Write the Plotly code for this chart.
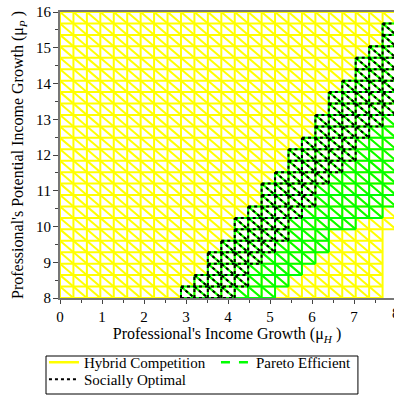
import plotly.graph_objects as go

# Grid nodes of the region mesh
mu_H_nodes = [0.0, 0.32, 0.64, 0.96, 1.28, 1.6, 1.92, 2.24, 2.56, 2.88, 3.2, 3.52, 3.84,
              4.16, 4.48, 4.8, 5.12, 5.44, 5.76, 6.08, 6.4, 6.72, 7.04, 7.36, 7.68, 8.0]
mu_P_nodes = [8.0, 8.32, 8.64, 8.96, 9.28, 9.6, 9.92, 10.24, 10.56, 10.88, 11.2, 11.52, 11.84,
              12.16, 12.48, 12.8, 13.12, 13.44, 13.76, 14.08, 14.4, 14.72, 15.04, 15.36, 15.68, 16.0]

# Regions: for each mesh column, first and last+1 row index of the filled cells
hybrid_cols = [0, 1, 2, 3, 4, 5, 6, 7, 8, 9, 10, 11, 12, 13, 14, 15, 16, 17, 18, 19, 20, 21, 22, 23, 24]
hybrid_bottom = [0, 0, 0, 0, 0, 0, 0, 0, 0, 0, 0, 0, 0, 0, 0, 0, 0, 0, 0, 0, 0, 0, 0, 0, 6]
hybrid_top = [25, 25, 25, 25, 25, 25, 25, 25, 25, 25, 25, 25, 25, 25, 25, 25, 25, 25, 25, 25, 25, 25, 25, 25, 25]

pareto_cols = [9, 10, 11, 12, 13, 14, 15, 16, 17, 18, 19, 20, 21, 22, 23, 24]
pareto_bottom = [0, 0, 0, 0, 0, 0, 0, 1, 2, 3, 4, 6, 6, 7, 7, 8]
pareto_top = [1, 2, 4, 5, 7, 8, 10, 11, 13, 14, 16, 18, 19, 21, 22, 24]

social_cols = [9, 10, 11, 12, 13, 14, 15, 16, 17, 18, 19, 20, 21, 22, 23, 24]
social_bottom = [0, 0, 0, 0, 1, 3, 4, 5, 7, 8, 10, 11, 12, 14, 15, 16]
social_top = [1, 2, 4, 5, 7, 8, 10, 11, 13, 14, 16, 18, 19, 21, 22, 24]

x_ticks = [0, 1, 2, 3, 4, 5, 6, 7, 8]
y_ticks = [8, 9, 10, 11, 12, 13, 14, 15, 16]

x_title = "Professional's Income Growth (\u03bc<sub><i>H</i></sub> )"
y_title = "Professional's Potential Income Growth (\u03bc<sub><i>P</i></sub> )"
legend_names = ["Hybrid Competition", "Pareto Efficient", "Socially Optimal"]


def mesh(cols, bottoms, tops):
    cells = set()
    for c, b, t in zip(cols, bottoms, tops):
        for k in range(b, t):
            cells.add((c, k))
    nx = len(mu_H_nodes) - 1
    ny = len(mu_P_nodes) - 1
    xs, ys = [], []

    def add(x0, y0, x1, y1):
        xs.extend([x0, x1, None])
        ys.extend([y0, y1, None])

    for k in range(ny + 1):
        start = None
        for i in range(nx + 1):
            on = i < nx and (((i, k - 1) in cells) or ((i, k) in cells))
            if on and start is None:
                start = i
            if not on and start is not None:
                add(mu_H_nodes[start], mu_P_nodes[k], mu_H_nodes[i], mu_P_nodes[k])
                start = None
    for i in range(nx + 1):
        start = None
        for k in range(ny + 1):
            on = k < ny and (((i - 1, k) in cells) or ((i, k) in cells))
            if on and start is None:
                start = k
            if not on and start is not None:
                add(mu_H_nodes[i], mu_P_nodes[start], mu_H_nodes[i], mu_P_nodes[k])
                start = None
    for d in range(nx + ny):
        start = None
        for i in range(nx + 1):
            k = d - i
            on = i < nx and 0 <= k < ny and (i, k) in cells
            if on and start is None:
                start = i
            if not on and start is not None:
                ks = d - start
                ke = d - (i - 1)
                add(mu_H_nodes[start], mu_P_nodes[ks + 1], mu_H_nodes[i], mu_P_nodes[ke])
                start = None
    return xs, ys


fig = go.Figure()

hx, hy = mesh(hybrid_cols, hybrid_bottom, hybrid_top)
fig.add_trace(go.Scatter(x=hx, y=hy, mode="lines", line=dict(color="#ffff00", width=2),
                         showlegend=False, hoverinfo="skip"))
px_, py_ = mesh(pareto_cols, pareto_bottom, pareto_top)
fig.add_trace(go.Scatter(x=px_, y=py_, mode="lines", line=dict(color="#00ff00", width=2),
                         showlegend=False, hoverinfo="skip"))
sx, sy = mesh(social_cols, social_bottom, social_top)
fig.add_trace(go.Scatter(x=sx, y=sy, mode="lines", line=dict(color="#000000", width=2, dash="dot"),
                         showlegend=False, hoverinfo="skip"))

fig.add_trace(go.Scatter(x=[None], y=[None], mode="lines", name=legend_names[0], legend="legend",
                         line=dict(color="#ffff00", width=2.5)))
fig.add_trace(go.Scatter(x=[None], y=[None], mode="lines", name=legend_names[1], legend="legend",
                         line=dict(color="#00ff00", width=2.5, dash="dash")))
fig.add_trace(go.Scatter(x=[None], y=[None], mode="lines", name=legend_names[2], legend="legend2",
                         line=dict(color="#000000", width=2, dash="dot")))

serif = "Liberation Serif"
leg_common = dict(orientation="h", xanchor="left", borderwidth=0, bgcolor="rgba(0,0,0,0)",
                  font=dict(family=serif, size=15), itemwidth=30)

fig.update_layout(
    width=394, height=396,
    margin=dict(l=60, r=0, t=12, b=98),
    paper_bgcolor="white", plot_bgcolor="white",
    font=dict(family=serif, size=15, color="black"),
    xaxis=dict(range=[0, 7.952], tickvals=x_ticks, ticks="outside", ticklen=4, tickwidth=1,
               tickcolor="#444", showgrid=False, zeroline=False, showline=True, linecolor="#777",
               linewidth=2, mirror=True, automargin=False, ticklabelstandoff=0,
               minor=dict(dtick=0.5, tick0=0, ticks="outside", ticklen=3, tickcolor="#444", showgrid=False),
               title=dict(text=x_title, font=dict(family=serif, size=16), standoff=4),
               tickfont=dict(family=serif, size=15)),
    yaxis=dict(range=[8, 16], tickvals=y_ticks, ticks="outside", ticklen=5, tickwidth=1,
               tickcolor="#444", showgrid=False, zeroline=False, showline=True, linecolor="#777",
               linewidth=2, automargin=False, ticklabelstandoff=-1,
               minor=dict(dtick=0.5, tick0=8, ticks="outside", ticklen=3, tickcolor="#444", showgrid=False),
               title=dict(text=y_title, font=dict(family=serif, size=16), standoff=8),
               tickfont=dict(family=serif, size=15)),
    legend=dict(x=-0.048, y=-0.2255, yanchor="middle", entrywidth=127, entrywidthmode="pixels", **leg_common),
    legend2=dict(x=-0.048, y=-0.3425, yanchor="bottom", **leg_common),
    shapes=[dict(type="rect", xref="paper", yref="paper", x0=-0.0419, x1=0.892, y0=-0.3357, y1=-0.2028,
                 line=dict(color="black", width=1), fillcolor="rgba(0,0,0,0)", layer="above")],
    annotations=[dict(text="8", xref="paper", yref="paper", x=1.006, y=0, xanchor="center",
                      yanchor="top", yshift=-5, showarrow=False, font=dict(family=serif, size=15))],
)

fig.write_html("out.html", config={"displayModeBar": False},
               post_script="document.body.style.margin='0px';")
